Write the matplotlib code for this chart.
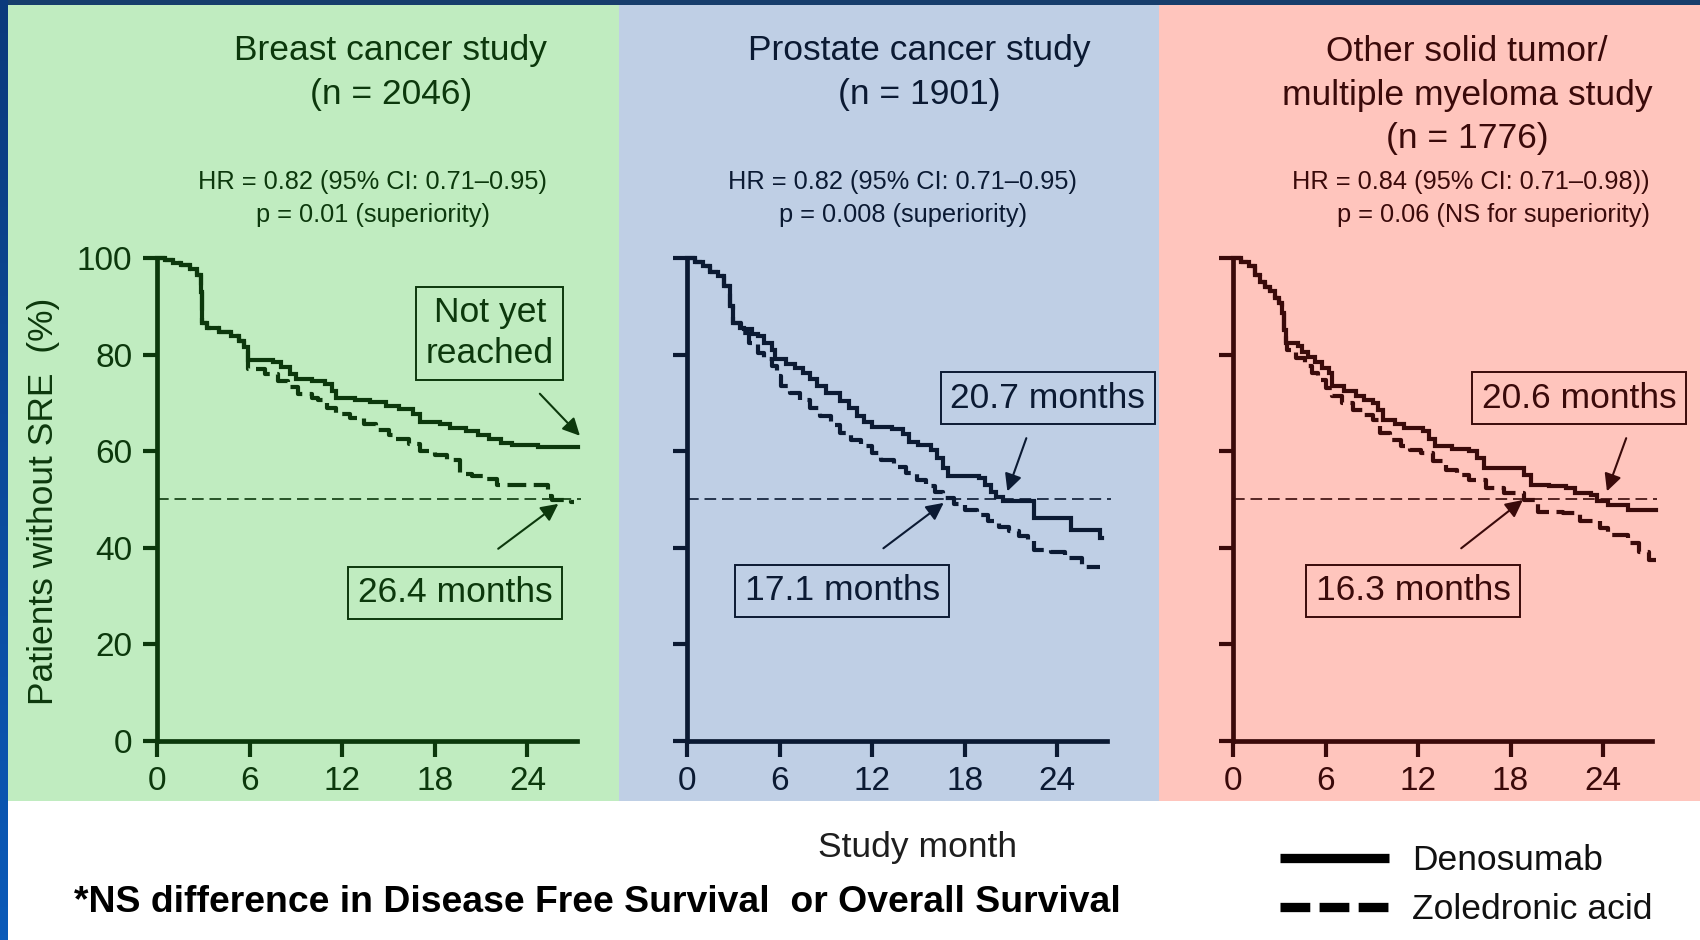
import numpy as np
import matplotlib
matplotlib.use("Agg")
import matplotlib.pyplot as plt
from matplotlib.patches import Rectangle
from matplotlib.lines import Line2D
from matplotlib.colors import LinearSegmentedColormap

plt.rcParams['font.family'] = ['Liberation Sans', 'DejaVu Sans']

# ---- data ----
titles = ["Breast cancer study\n(n = 2046)",
          "Prostate cancer study\n(n = 1901)",
          "Other solid tumor/\nmultiple myeloma study\n(n = 1776)"]
stats = ["HR = 0.82 (95% CI: 0.71\u20130.95)\np = 0.01 (superiority)",
         "HR = 0.82 (95% CI: 0.71\u20130.95)\np = 0.008 (superiority)",
         "HR = 0.84 (95% CI: 0.71\u20130.98))\np = 0.06 (NS for superiority)"]
month_ticks = [0, 6, 12, 18, 24]
pct_ticks = [0, 20, 40, 60, 80, 100]

# breast cancer study
breast_deno_t = [0, 0.5, 1.0, 1.5, 2.1, 2.6, 2.8, 2.9, 3.2, 4.0, 4.8, 5.3, 5.6, 5.9, 7.5, 8.0, 8.6, 9.0,
                 10.0, 10.9, 11.3, 11.6, 12.8, 13.8, 14.8, 15.7, 16.6, 17.0, 18.3, 19.0, 20.0, 20.8,
                 21.5, 22.3, 23.0, 24.7, 27.3]
breast_deno_s = [100, 99.5, 99.0, 98.5, 97.7, 96.5, 93.0, 86.5, 85.5, 84.6, 83.8, 82.9, 81.5, 78.8, 78.4,
                 77.4, 76.0, 75.0, 74.5, 73.9, 72.5, 71.1, 70.6, 70.1, 69.4, 68.8, 67.8, 66.1, 65.6,
                 64.9, 64.1, 63.4, 62.6, 61.8, 61.2, 60.9, 60.9]
breast_zol_t = [0, 0.5, 1.0, 1.5, 2.1, 2.6, 2.8, 2.9, 3.2, 4.0, 4.8, 5.3, 5.6, 5.9, 7.0, 7.8, 8.5, 9.1,
                10.0, 10.4, 11.0, 11.6, 12.5, 13.4, 14.2, 15.0, 15.5, 16.3, 17.0, 18.0, 18.8, 19.6,
                20.4, 21.1, 22.0, 25.3, 25.6, 26.8, 27.0]
breast_zol_s = [100, 99.5, 99.0, 98.5, 97.7, 96.5, 93.0, 86.5, 85.5, 84.6, 83.8, 82.9, 81.5, 77.0, 76.0,
                74.6, 73.2, 71.8, 71.0, 70.5, 69.0, 67.7, 66.8, 65.6, 64.3, 63.3, 62.5, 61.5, 60.1,
                59.3, 58.1, 55.3, 54.8, 54.3, 52.9, 50.8, 49.8, 49.4, 49.4]

# prostate cancer study
prostate_deno_t = [0, 0.5, 1.0, 1.5, 2.0, 2.4, 2.8, 3.0, 3.4, 3.7, 4.2, 4.6, 5.0, 5.5, 5.7, 6.4, 7.0, 7.5,
                   8.0, 8.4, 9.0, 9.9, 10.5, 11.0, 11.5, 12.0, 13.3, 14.0, 14.4, 15.0, 15.8, 16.2, 16.6,
                   16.9, 18.9, 19.3, 19.7, 20.0, 20.5, 22.5, 24.9, 26.8, 26.9]
prostate_deno_s = [100, 99.2, 98.3, 97.2, 96.2, 94.2, 90.0, 86.6, 85.6, 85.2, 84.3, 83.8, 82.4, 81.0, 79.0,
                   78.0, 77.2, 76.2, 75.0, 73.4, 72.0, 70.3, 69.0, 67.2, 66.0, 65.1, 64.5, 63.5, 62.0,
                   61.2, 60.3, 58.5, 56.5, 54.8, 54.4, 53.0, 51.5, 50.6, 49.6, 46.2, 43.7, 42.0, 42.0]
prostate_zol_t = [0, 0.5, 1.0, 1.5, 2.0, 2.4, 2.8, 3.0, 3.5, 4.0, 4.6, 5.0, 5.5, 5.8, 6.1, 6.7, 7.3, 8.0,
                  8.6, 9.3, 9.9, 10.6, 11.3, 12.0, 12.6, 13.4, 14.2, 14.9, 15.5, 16.1, 16.6, 17.3, 18.0,
                  18.8, 19.5, 20.2, 20.9, 21.5, 22.1, 22.5, 23.6, 24.5, 25.6, 26.8]
prostate_zol_s = [100, 99.2, 98.3, 97.2, 96.2, 94.2, 90.0, 86.6, 84.5, 82.5, 80.3, 79.0, 77.6, 75.5, 73.4,
                  72.0, 70.7, 69.0, 67.2, 65.5, 63.8, 62.4, 61.0, 59.6, 58.2, 56.8, 55.5, 54.0, 52.7,
                  51.5, 50.3, 49.0, 47.9, 46.7, 45.5, 44.4, 43.4, 42.5, 41.7, 39.6, 39.2, 37.9, 36.1, 36.1]

# other solid tumor / multiple myeloma study
other_deno_t = [0, 0.5, 1.07, 1.4, 1.74, 2.1, 2.41, 2.7, 2.96, 3.19, 3.3, 3.41, 4.19, 4.5, 4.86, 5.3, 5.8,
                6.2, 6.42, 7.2, 7.98, 8.5, 9.1, 9.4, 9.76, 10.5, 11.1, 12.3, 12.7, 13.1, 14.2, 15.3, 15.8,
                16.3, 18.9, 19.35, 20.5, 21.6, 22.2, 23.2, 23.6, 24.3, 25.6, 27.4]
other_deno_s = [100, 99.2, 98.3, 96.5, 95.0, 94.0, 93.1, 91.8, 90.7, 88.6, 85.0, 82.4, 81.7, 80.6, 79.6,
                78.5, 77.2, 76.2, 73.4, 72.5, 71.4, 70.7, 70.0, 68.5, 66.5, 65.6, 64.8, 64.1, 62.5, 61.0,
                60.5, 60.0, 58.5, 56.5, 55.1, 53.1, 52.8, 52.4, 51.3, 51.0, 49.6, 48.9, 47.9, 47.9]
other_zol_t = [0, 0.5, 1.07, 1.4, 1.74, 2.1, 2.41, 2.7, 2.96, 3.19, 3.3, 3.41, 3.52, 4.1, 4.64, 5.1, 5.53,
               6.0, 6.42, 7.1, 7.76, 8.4, 9.1, 9.54, 10.2, 10.88, 11.5, 12.2, 13.0, 13.8, 14.5, 15.3,
               16.4, 17.6, 18.9, 19.8, 21.4, 22.5, 23.8, 24.3, 25.6, 26.3, 27.0, 27.4]
other_zol_s = [100, 99.2, 98.3, 96.5, 95.0, 94.0, 93.1, 91.8, 90.7, 88.6, 85.0, 82.4, 81.0, 79.3, 77.6,
               76.2, 74.8, 73.1, 71.4, 70.0, 68.6, 67.5, 66.5, 63.8, 62.4, 61.0, 60.3, 59.6, 57.9, 56.2,
               55.1, 54.1, 52.4, 51.3, 49.9, 47.5, 47.2, 45.5, 44.1, 42.7, 41.0, 39.2, 37.5, 37.5]

deno = [(breast_deno_t, breast_deno_s), (prostate_deno_t, prostate_deno_s), (other_deno_t, other_deno_s)]
zol = [(breast_zol_t, breast_zol_s), (prostate_zol_t, prostate_zol_s), (other_zol_t, other_zol_s)]

# median labels: text, box centre, arrow tail, arrow head (months, %)
notes = [
    [("Not yet\nreached", (21.55, 84.4), (24.8, 71.9), (27.4, 63.2)),
     ("26.4 months", (19.3, 30.7), (22.1, 39.8), (26.0, 49.1))],
    [("20.7 months", (23.4, 71.0), (22.0, 62.7), (20.77, 51.7)),
     ("17.1 months", (10.05, 31.1), (12.73, 39.9), (16.64, 49.3))],
    [("20.6 months", (22.45, 71.0), (25.5, 62.7), (24.25, 51.7)),
     ("16.3 months", (11.7, 31.1), (14.8, 39.9), (18.8, 49.9))],
]

# ---- styling ----
W, H = 1700, 940
bg_colors = ['#c0ecc0', '#bfcfe5', '#ffc5bd']
ink = ['#0c380c', '#0b1a33', '#3a0a0a']
panel_x = [(7, 619), (619, 1159), (1159, 1700)]
axes_left = [157.4, 687.1, 1233.0]
title_x = [391, 919, 1467]
stat_x = [373, 903, 1650]
px_per_month = 15.42


def fx(x):
    return x / W


def fy(y):
    return 1 - y / H


fig = plt.figure(figsize=(17, 9.4), dpi=100)
fig.patch.set_facecolor('white')

# coloured panels and borders
for (x0, x1), c in zip(panel_x, bg_colors):
    fig.add_artist(Rectangle((fx(x0), fy(801)), fx(x1 - x0), (801 - 5) / H,
                             transform=fig.transFigure, facecolor=c, edgecolor='none', zorder=-5))
fig.add_artist(Rectangle((0, fy(5)), 1, 5 / H, transform=fig.transFigure,
                         facecolor='#173e6c', edgecolor='none', zorder=-4))
strip = fig.add_axes([0, 0, fx(7), 1], zorder=-3)
strip.imshow(np.linspace(0, 1, 200).reshape(-1, 1), aspect='auto', origin='lower',
             cmap=LinearSegmentedColormap.from_list('edge', ['#0a5ab9', '#0b3a7c']))
strip.axis('off')

for i in range(3):
    c = ink[i]
    width = 27.2 * px_per_month
    ax = fig.add_axes([fx(axes_left[i]), fy(741), fx(width), (741 - 258) / H])
    ax.set_facecolor('none')
    ax.set_xlim(0, 27.2)
    ax.set_ylim(0, 100)
    for s in ['top', 'right']:
        ax.spines[s].set_visible(False)
    for s in ['left', 'bottom']:
        ax.spines[s].set_linewidth(3.4)
        ax.spines[s].set_color(c)
    ax.set_xticks(month_ticks)
    ax.set_yticks(pct_ticks)
    ax.tick_params(axis='both', direction='out', width=3.0, color=c, labelcolor=c, labelsize=24)
    ax.tick_params(axis='y', length=10, pad=8, labelleft=(i == 0))
    ax.tick_params(axis='x', length=11.5, pad=6.5)

    ax.axhline(50, xmax=27.5 / 27.2, color=c, lw=1.2, dashes=(7, 3.5), clip_on=False)

    t, s = deno[i]
    ax.step(t, s, where='post', color=c, lw=3.0, clip_on=False, solid_joinstyle='miter')
    t, s = zol[i]
    ax.step(t, s, where='post', color=c, lw=3.0, dashes=(4.5, 1.8), clip_on=False)

    for label, centre, tail, head in notes[i]:
        ax.text(centre[0], centre[1], label, ha='center', va='center', fontsize=25.5, color=c,
                linespacing=1.3, clip_on=False,
                bbox=dict(boxstyle='square,pad=0.27', facecolor='none', edgecolor=c, lw=1.4))
        ax.annotate('', xy=head, xytext=tail, annotation_clip=False,
                    arrowprops=dict(arrowstyle='-|>', color=c, lw=1.5, mutation_scale=26,
                                    shrinkA=0, shrinkB=0))

    fig.text(fx(title_x[i]), fy(72.5 if i < 2 else 95), titles[i], ha='center', va='center',
             fontsize=25.5, color=c, linespacing=1.4)
    fig.text(fx(stat_x[i]), fy(198.5), stats[i], ha='right' if i == 2 else 'center', va='center',
             multialignment='right' if i == 2 else 'center',
             fontsize=18.3, color=c, linespacing=1.45)

fig.text(fx(44), fy(501), "Patients without SRE  (%)", rotation=90, ha='center', va='center',
         fontsize=25.5, color=ink[0])
fig.text(fx(917), fy(848), "Study month", ha='center', va='center', fontsize=25.5, color='#1e1e1e')
fig.text(fx(74), fy(902), "*NS difference in Disease Free Survival  or Overall Survival",
         ha='left', va='center', fontsize=26.9, fontweight='bold', color='black')

handles = [Line2D([], [], color='black', lw=6.7, solid_capstyle='butt'),
           Line2D([], [], color='black', lw=6.7, dashes=(3.2, 1.0), dash_capstyle='butt')]
fig.legend(handles, ["Denosumab", "Zoledronic acid"], loc='upper left',
           bbox_to_anchor=(fx(1280), fy(844)), frameon=False, fontsize=25.5,
           handlelength=3.08, handletextpad=0.65, labelspacing=0.45,
           borderpad=0, borderaxespad=0, labelcolor='#111111')

fig.savefig('out.png', dpi=100)
